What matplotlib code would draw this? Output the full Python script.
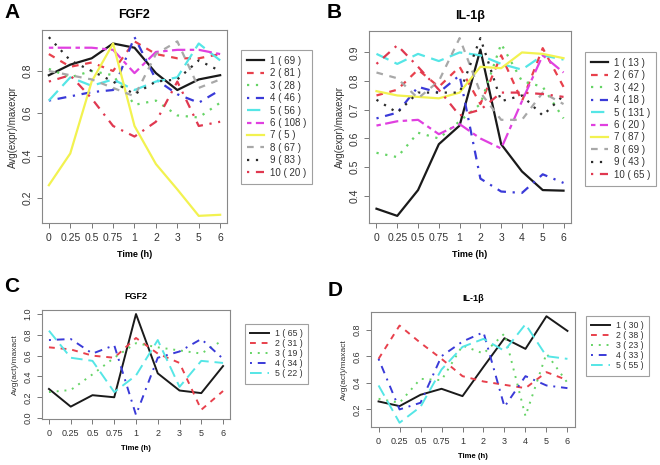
import matplotlib.pyplot as plt

plt.rcParams['font.family'] = ['Liberation Sans', 'DejaVu Sans']

# time points (categorical x axis)
times_a = ['0', '0.25', '0.5', '0.75', '1', '2', '3', '5', '6']
times_b = ['0', '0.25', '0.5', '0.75', '1', '2', '3', '4', '5', '6']

# A: FGF2 expression clusters
fgf2_expr = [
    [0.78, 0.83, 0.86, 0.93, 0.91, 0.79, 0.71, 0.76, 0.78],
    [0.88, 0.82, 0.84, 0.80, 0.94, 0.88, 0.86, 0.86, 0.88],
    [0.81, 0.77, 0.80, 0.78, 0.64, 0.66, 0.59, 0.58, 0.65],
    [0.66, 0.68, 0.70, 0.71, 0.96, 0.76, 0.69, 0.65, 0.71],
    [0.66, 0.77, 0.73, 0.76, 0.71, 0.75, 0.77, 0.93, 0.85],
    [0.91, 0.91, 0.91, 0.90, 0.79, 0.89, 0.90, 0.90, 0.88],
    [0.26, 0.41, 0.75, 0.93, 0.54, 0.36, 0.24, 0.115, 0.12],
    [0.80, 0.78, 0.76, 0.72, 0.68, 0.88, 0.94, 0.72, 0.76],
    [0.96, 0.85, 0.80, 0.75, 0.69, 0.75, 0.76, 0.85, 0.80],
    [0.75, 0.78, 0.67, 0.54, 0.49, 0.56, 0.75, 0.54, 0.56],
]
fgf2_expr_n = [69, 81, 28, 46, 56, 108, 5, 67, 83, 20]

# B: IL-1b expression clusters
il1b_expr = [
    [0.355, 0.33, 0.42, 0.58, 0.645, 0.91, 0.58, 0.485, 0.42, 0.418],
    [0.75, 0.77, 0.84, 0.78, 0.85, 0.72, 0.89, 0.73, 0.915, 0.78],
    [0.55, 0.535, 0.62, 0.60, 0.66, 0.72, 0.93, 0.80, 0.78, 0.67],
    [0.67, 0.69, 0.78, 0.76, 0.82, 0.46, 0.415, 0.41, 0.475, 0.445],
    [0.895, 0.86, 0.895, 0.87, 0.90, 0.89, 0.86, 0.84, 0.89, 0.875],
    [0.645, 0.66, 0.665, 0.615, 0.65, 0.60, 0.565, 0.73, 0.89, 0.83],
    [0.765, 0.75, 0.745, 0.74, 0.76, 0.85, 0.845, 0.90, 0.895, 0.88],
    [0.83, 0.81, 0.74, 0.80, 0.95, 0.76, 0.665, 0.665, 0.76, 0.72],
    [0.735, 0.69, 0.76, 0.76, 0.76, 0.95, 0.73, 0.75, 0.68, 0.75],
    [0.86, 0.925, 0.85, 0.77, 0.68, 0.70, 0.76, 0.76, 0.755, 0.745],
]
il1b_expr_n = [13, 67, 42, 18, 131, 20, 87, 69, 43, 65]

# C: FGF2 activity clusters
fgf2_act = [
    [0.28, 0.11, 0.22, 0.20, 1.00, 0.43, 0.265, 0.24, 0.50],
    [0.68, 0.66, 0.60, 0.58, 0.77, 0.62, 0.53, 0.08, 0.26],
    [0.25, 0.27, 0.42, 0.58, 0.72, 0.68, 0.65, 0.62, 0.75],
    [0.75, 0.76, 0.62, 0.70, 0.03, 0.58, 0.64, 0.76, 0.57],
    [0.84, 0.58, 0.55, 0.25, 0.41, 0.75, 0.30, 0.55, 0.53],
]
fgf2_act_n = [65, 31, 19, 34, 22]

# D: IL-1b activity clusters
il1b_act = [
    [0.26, 0.225, 0.31, 0.355, 0.30, 0.52, 0.735, 0.655, 0.90, 0.79],
    [0.58, 0.83, 0.70, 0.58, 0.45, 0.41, 0.385, 0.36, 0.48, 0.42],
    [0.28, 0.25, 0.43, 0.42, 0.68, 0.62, 0.77, 0.15, 0.62, 0.40],
    [0.58, 0.20, 0.25, 0.60, 0.71, 0.78, 0.22, 0.45, 0.38, 0.36],
    [0.38, 0.10, 0.22, 0.50, 0.67, 0.73, 0.64, 0.84, 0.60, 0.58],
]
il1b_act_n = [30, 38, 23, 33, 55]

# R-like palette / line types
colors = ['#1a1a1a', '#e8404c', '#66d466', '#3a3ad8', '#55e6e6',
          '#e040e0', '#f2f250', '#a8a8a8', '#2a2a2a', '#e03850']
dashes = [None, (3, 3), (1, 3), (1, 3, 4, 3), (6, 3), (2, 2, 6, 2),
          None, (3, 3), (1, 3), (1, 3, 4, 3)]

W, H = 660, 465
fig = plt.figure(figsize=(W / 100, H / 100), dpi=100)


def px_axes(l, t, r, b):
    return fig.add_axes([l / W, 1 - b / H, (r - l) / W, (b - t) / H])


def draw(ax, data, counts, labels, title, ylabel, leg_xy, small):
    x = range(len(labels))
    lw = 1.6 if not small else 1.4
    for i, ys in enumerate(data):
        line, = ax.plot(x, ys, color=colors[i], lw=lw,
                        label='%d ( %d )' % (i + 1, counts[i]))
        if dashes[i] is not None:
            line.set_dashes(dashes[i])
    allv = [v for s in data for v in s]
    lo, hi = min(allv), max(allv)
    pad = 0.04 * (hi - lo)
    ax.set_ylim(lo - pad, hi + pad)
    n = len(labels)
    ax.set_xlim(-0.04 * (n - 1), (n - 1) * 1.04)
    ax.set_xticks(list(x))
    fs = 6.5 if small else 7.5
    ax.set_xticklabels(labels, fontsize=fs, color='#333333')
    ax.tick_params(axis='y', labelrotation=90, labelsize=fs, labelcolor='#333333')
    ax.tick_params(length=3.5, color='#777777', width=0.7)
    for sp in ax.spines.values():
        sp.set_color('#888888')
        sp.set_linewidth(0.8)
    ax.set_title(title, fontsize=6.5 if small else 9, fontweight='bold', pad=8 if small else 9)
    ax.set_xlabel('Time (h)', fontsize=5.5 if small else 6.5, fontweight='bold', labelpad=5)
    ax.set_ylabel(ylabel, fontsize=6 if small else 7, color='#333333', labelpad=3)
    leg = ax.legend(loc='upper left', bbox_to_anchor=(leg_xy[0] / W, 1 - leg_xy[1] / H),
                    bbox_transform=fig.transFigure, fancybox=False, frameon=True,
                    fontsize=6.3 if small else 7, handlelength=2.1 if small else 1.8,
                    labelspacing=0.12 if small else 0.25, borderpad=0.6,
                    handletextpad=0.7 if small else 0.6, borderaxespad=0)
    leg.get_frame().set_edgecolor('#888888')
    leg.get_frame().set_linewidth(0.8)
    for t in leg.get_texts():
        t.set_color('#333333')


axA = px_axes(42, 30, 227, 223)
draw(axA, fgf2_expr, fgf2_expr_n, times_a, 'FGF2', 'Avg(expr)/maxexpr', (241, 50), False)
axA.set_yticks([0.2, 0.4, 0.6, 0.8])

axB = px_axes(369, 31, 571, 223)
draw(axB, il1b_expr, il1b_expr_n, times_b, 'IL-1\u03b2', 'Avg(expr)/maxexpr', (585, 52), False)
axB.set_yticks([0.4, 0.5, 0.6, 0.7, 0.8, 0.9])

axC = px_axes(42, 310, 230, 419)
draw(axC, fgf2_act, fgf2_act_n, times_a, 'FGF2', 'Avg(act)/maxact', (245, 324), True)
axC.set_yticks([0.0, 0.2, 0.4, 0.6, 0.8, 1.0])

axD = px_axes(371, 312, 575, 427)
draw(axD, il1b_act, il1b_act_n, times_b, 'IL-1\u03b2', 'Avg(act)/maxact', (586, 316), True)
axD.set_yticks([0.2, 0.4, 0.6, 0.8])

for ax in (axA, axB, axC, axD):
    for lab in ax.get_yticklabels():
        lab.set_va('center')

for letter, (lx, ly) in zip('ABCD', [(4, 12), (327, 12), (4, 286), (328, 290)]):
    fig.text(lx / W, 1 - ly / H, letter, fontsize=15, fontweight='bold', va='center')

fig.savefig('out.png', dpi=100)
